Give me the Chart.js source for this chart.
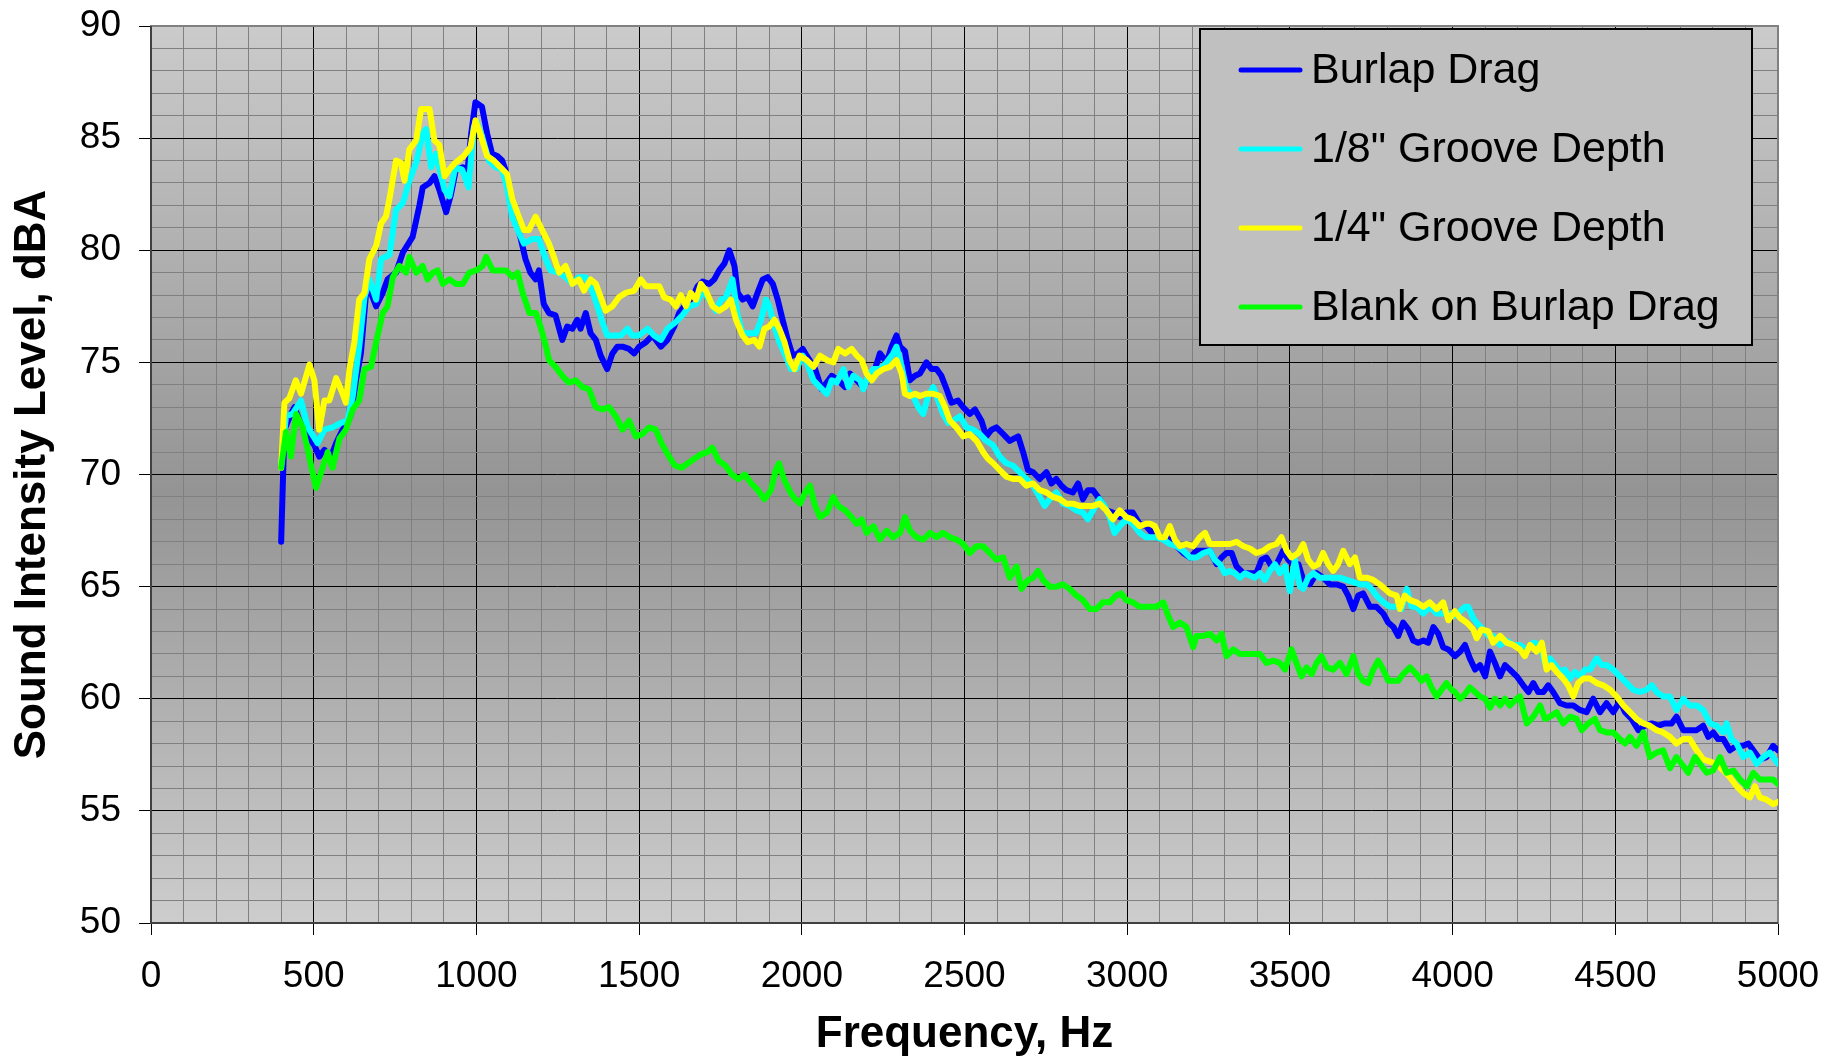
<!DOCTYPE html>
<html>
<head>
<meta charset="utf-8">
<title>Sound Intensity Level vs Frequency</title>
<script src="https://cdn.jsdelivr.net/npm/chart.js@4.4.1/dist/chart.umd.min.js"></script>
<style>
  html, body { margin: 0; padding: 0; background: #ffffff; }
  #wrap { width: 1844px; height: 1059px; }
</style>
</head>
<body>
<div id="wrap"><canvas id="chart" width="1844" height="1059"></canvas></div>
<script>
// Measured spectra: [frequency Hz, level dBA]
const burlapDrag = [[400,67.0],[410,72.0],[430,72.7],[441,73.0],[456,72.4],[482,71.7],[502,71.3],[517,70.8],[533,71.1],[553,70.8],[569,71.4],[589,72.0],[604,72.3],[615,72.7],[630,74.2],[645,75.4],[661,78.1],[676,78.1],[692,77.5],[712,78.1],[727,78.7],[753,79.0],[774,79.9],[804,80.6],[825,82.0],[835,82.8],[856,83.0],[871,83.3],[886,82.7],[907,81.7],[922,82.5],[937,83.6],[958,83.7],[973,83.6],[984,85.2],[997,86.6],[1017,86.4],[1033,85.2],[1048,84.3],[1064,84.2],[1079,84.0],[1089,83.6],[1105,82.0],[1120,81.4],[1135,80.6],[1151,79.6],[1166,79.0],[1182,78.7],[1192,79.1],[1207,77.6],[1223,77.2],[1243,77.1],[1264,76.0],[1279,76.6],[1295,76.5],[1310,76.9],[1320,76.5],[1336,77.2],[1351,76.3],[1367,76.0],[1382,75.3],[1402,74.7],[1418,75.4],[1433,75.7],[1449,75.7],[1469,75.6],[1485,75.4],[1500,75.7],[1521,75.9],[1541,76.2],[1567,75.7],[1587,76.0],[1608,76.6],[1623,77.2],[1644,77.6],[1664,77.9],[1680,78.4],[1695,78.6],[1716,78.5],[1731,78.7],[1746,79.1],[1762,79.4],[1777,80.0],[1793,79.3],[1803,78.1],[1818,77.8],[1834,77.9],[1849,77.5],[1864,78.1],[1880,78.7],[1895,78.8],[1911,78.5],[1926,77.8],[1941,76.9],[1957,76.0],[1972,75.3],[1988,75.4],[2003,75.6],[2015,75.3],[2041,74.7],[2061,73.8],[2082,74.2],[2092,74.4],[2112,74.2],[2133,73.9],[2148,74.5],[2169,74.2],[2189,73.9],[2210,74.4],[2225,74.7],[2240,75.4],[2261,75.0],[2276,75.7],[2291,76.2],[2302,75.7],[2317,75.5],[2332,74.2],[2348,74.4],[2363,74.5],[2383,75.0],[2399,74.7],[2414,74.7],[2429,74.4],[2445,73.8],[2460,73.2],[2480,73.3],[2496,73.0],[2516,72.7],[2532,72.9],[2552,72.4],[2567,71.7],[2583,72.0],[2598,72.1],[2619,71.8],[2639,71.5],[2665,71.7],[2680,71.0],[2695,70.2],[2711,70.1],[2731,69.8],[2752,70.1],[2767,69.6],[2782,69.8],[2798,69.5],[2813,69.3],[2833,69.2],[2849,69.6],[2864,68.9],[2879,69.3],[2895,69.3],[2915,68.9],[2936,68.4],[2956,68.3],[2977,68.1],[2997,68.3],[3017,68.3],[3038,67.8],[3058,67.7],[3070,67.5],[3090,67.2],[3111,67.2],[3131,67.1],[3152,66.8],[3172,66.5],[3193,66.3],[3213,66.6],[3234,66.6],[3254,66.6],[3275,66.0],[3290,66.3],[3305,66.5],[3321,66.5],[3336,65.9],[3357,65.6],[3377,65.6],[3397,65.6],[3413,66.2],[3428,66.3],[3444,65.9],[3459,66.0],[3479,66.6],[3495,66.2],[3510,66.0],[3526,66.0],[3541,65.3],[3561,65.1],[3582,65.6],[3602,65.4],[3623,65.1],[3643,65.1],[3664,65.0],[3679,64.6],[3695,64.0],[3710,64.6],[3725,64.7],[3746,64.1],[3766,64.1],[3787,63.8],[3802,63.4],[3818,63.2],[3833,62.8],[3848,63.4],[3864,63.1],[3879,62.6],[3894,62.5],[3910,62.6],[3925,62.5],[3941,63.2],[3956,62.9],[3971,62.3],[3987,62.2],[4007,61.9],[4023,62.1],[4038,62.4],[4053,61.8],[4069,61.3],[4084,61.5],[4100,61.0],[4115,62.1],[4130,61.6],[4146,61.0],[4161,61.5],[4176,61.3],[4197,61.0],[4217,60.6],[4233,60.3],[4248,60.7],[4263,60.3],[4279,60.3],[4294,60.6],[4309,60.3],[4330,59.8],[4350,59.7],[4371,59.7],[4391,59.5],[4412,59.4],[4432,60.0],[4453,59.4],[4473,59.8],[4494,59.4],[4514,59.9],[4530,59.4],[4550,59.1],[4571,58.6],[4591,58.8],[4612,58.9],[4632,58.8],[4653,58.9],[4673,58.9],[4688,59.2],[4709,58.6],[4729,58.6],[4750,58.6],[4770,58.8],[4786,58.3],[4801,58.5],[4816,58.2],[4832,58.2],[4852,57.7],[4873,57.9],[4893,57.9],[4909,58.0],[4924,57.7],[4944,57.3],[4965,57.4],[4985,57.9],[5000,57.7]];

const grooveEighth = [[400,70.5],[415,72.6],[435,72.7],[461,73.3],[482,72.1],[512,71.4],[533,72.0],[558,72.1],[584,72.3],[604,72.4],[620,73.5],[640,75.7],[656,77.9],[671,78.7],[692,77.8],[707,79.6],[733,79.8],[753,81.8],[774,82.1],[794,83.1],[815,83.9],[835,85.2],[845,85.4],[861,83.7],[876,84.3],[902,82.7],[917,82.4],[935,83.7],[956,83.6],[976,82.8],[992,85.5],[1002,85.7],[1017,85.1],[1038,84.0],[1059,83.7],[1079,83.6],[1094,82.8],[1110,81.5],[1130,80.8],[1146,80.3],[1171,80.5],[1192,80.5],[1213,79.6],[1228,79.1],[1254,79.0],[1274,78.8],[1295,78.5],[1315,78.8],[1336,78.8],[1356,78.2],[1372,77.5],[1387,76.8],[1402,76.2],[1423,76.2],[1444,76.2],[1464,76.5],[1479,76.2],[1500,76.2],[1526,76.5],[1546,76.2],[1567,76.0],[1587,76.5],[1613,76.8],[1633,77.1],[1654,77.5],[1675,77.6],[1695,78.2],[1716,77.8],[1736,77.3],[1752,77.8],[1767,77.9],[1787,78.7],[1803,77.1],[1818,76.3],[1839,76.3],[1859,76.3],[1875,76.9],[1890,77.8],[1900,77.5],[1916,76.6],[1931,75.9],[1947,75.4],[1967,74.7],[1983,74.7],[2003,75.3],[2015,75.0],[2036,74.2],[2056,73.9],[2077,73.6],[2092,74.2],[2107,74.1],[2128,74.7],[2143,73.9],[2158,74.4],[2179,74.2],[2189,73.8],[2204,74.4],[2220,74.7],[2240,74.7],[2261,75.0],[2281,75.4],[2291,75.7],[2307,74.8],[2322,73.8],[2342,73.5],[2358,73.0],[2373,72.7],[2388,73.5],[2404,73.9],[2419,73.3],[2434,72.7],[2450,72.3],[2465,72.4],[2486,72.6],[2506,72.1],[2527,72.0],[2547,71.8],[2567,71.5],[2588,71.3],[2608,70.8],[2629,70.5],[2649,70.4],[2670,70.1],[2690,69.8],[2711,69.5],[2731,69.0],[2746,68.6],[2762,68.9],[2782,69.2],[2803,68.7],[2823,68.6],[2844,68.4],[2864,68.3],[2879,68.0],[2895,68.4],[2915,68.9],[2930,68.6],[2946,68.1],[2961,67.4],[2977,67.7],[2997,68.0],[3017,67.8],[3038,67.4],[3058,67.2],[3090,67.2],[3111,67.1],[3131,66.9],[3152,66.8],[3172,66.6],[3193,66.3],[3213,66.3],[3234,66.5],[3254,66.6],[3269,66.2],[3285,66.0],[3300,65.6],[3315,65.7],[3331,65.6],[3346,65.4],[3362,65.6],[3377,65.5],[3392,65.4],[3408,65.6],[3423,65.3],[3438,65.7],[3454,66.0],[3469,65.6],[3485,65.9],[3500,64.8],[3515,66.2],[3531,65.0],[3541,64.9],[3556,65.4],[3572,65.6],[3592,65.4],[3613,65.4],[3633,65.4],[3654,65.4],[3674,65.3],[3695,65.2],[3715,65.1],[3736,65.1],[3751,64.9],[3766,64.6],[3787,64.3],[3807,64.1],[3828,64.1],[3843,64.0],[3859,64.9],[3874,64.1],[3889,64.1],[3910,63.8],[3930,64.1],[3951,63.8],[3971,63.8],[3992,63.8],[4007,63.7],[4023,63.9],[4038,64.1],[4048,64.1],[4063,63.6],[4079,63.3],[4094,63.1],[4110,62.8],[4125,62.8],[4146,62.4],[4166,62.6],[4186,62.4],[4207,62.4],[4228,62.2],[4248,62.5],[4269,62.4],[4284,61.6],[4299,61.8],[4315,61.5],[4330,61.2],[4345,61.3],[4361,60.9],[4376,61.2],[4391,61.0],[4407,61.3],[4422,61.3],[4443,61.8],[4458,61.5],[4473,61.5],[4494,61.3],[4514,61.0],[4535,60.7],[4555,60.4],[4576,60.3],[4596,60.4],[4612,60.6],[4627,60.3],[4647,60.1],[4668,60.1],[4688,59.5],[4709,60.0],[4729,59.7],[4750,59.7],[4770,59.5],[4791,58.9],[4811,58.8],[4832,58.5],[4842,58.9],[4857,58.2],[4873,58.0],[4893,57.4],[4914,57.6],[4934,57.1],[4955,57.4],[4975,57.6],[5000,57.1]];

const grooveQuarter = [[400,70.3],[410,73.2],[425,73.4],[445,74.2],[461,73.6],[487,74.9],[502,74.2],[517,72.0],[533,73.3],[548,73.3],[569,74.3],[589,73.6],[599,73.2],[610,74.7],[625,75.9],[640,77.8],[656,78.1],[671,79.6],[692,80.2],[707,81.2],[722,81.5],[733,82.3],[753,84.0],[768,83.9],[779,83.1],[794,84.5],[815,84.9],[830,86.3],[856,86.3],[871,84.9],[886,84.7],[902,83.3],[917,83.6],[935,83.9],[961,84.2],[982,84.6],[997,85.8],[1012,85.2],[1033,84.2],[1053,84.0],[1074,83.7],[1094,83.4],[1110,82.3],[1130,81.5],[1146,80.9],[1161,80.9],[1182,81.5],[1202,80.9],[1223,80.3],[1238,79.7],[1254,79.0],[1274,79.3],[1295,78.5],[1315,78.7],[1331,78.2],[1351,78.7],[1367,78.5],[1382,77.9],[1397,77.3],[1418,77.5],[1438,77.9],[1459,78.1],[1485,78.2],[1505,78.7],[1521,78.4],[1541,78.4],[1562,78.4],[1577,77.9],[1597,77.8],[1613,77.5],[1628,78.0],[1644,77.5],[1659,78.1],[1675,77.8],[1690,78.5],[1705,78.2],[1726,77.5],[1746,77.3],[1767,77.5],[1782,77.8],[1798,76.9],[1818,76.2],[1834,75.9],[1854,76.0],[1870,75.7],[1885,76.5],[1900,76.6],[1916,76.9],[1931,76.5],[1947,75.9],[1962,75.1],[1977,74.7],[1993,75.3],[2015,75.1],[2036,74.8],[2056,75.3],[2077,75.1],[2097,75.0],[2112,75.6],[2133,75.4],[2153,75.6],[2169,75.3],[2184,75.1],[2199,74.5],[2215,74.2],[2230,74.5],[2250,74.7],[2271,74.8],[2291,75.1],[2307,74.5],[2317,73.6],[2332,73.5],[2348,73.6],[2363,73.5],[2383,73.6],[2404,73.6],[2424,73.5],[2440,73.0],[2455,72.4],[2475,72.1],[2496,71.7],[2516,71.8],[2537,71.5],[2557,71.0],[2572,70.7],[2588,70.5],[2608,70.2],[2629,69.9],[2649,69.8],[2670,69.8],[2690,69.5],[2711,69.6],[2731,69.3],[2752,69.2],[2772,69.0],[2793,68.9],[2813,68.7],[2833,68.7],[2854,68.6],[2874,68.6],[2895,68.6],[2915,68.7],[2936,68.4],[2956,68.0],[2977,68.4],[2997,68.1],[3017,68.0],[3038,67.7],[3058,67.8],[3070,67.8],[3085,67.7],[3100,67.2],[3116,67.2],[3131,67.7],[3146,67.1],[3162,66.8],[3182,66.9],[3203,66.8],[3223,67.2],[3239,67.4],[3254,66.9],[3275,66.9],[3295,66.9],[3315,66.9],[3336,67.0],[3357,66.8],[3377,66.7],[3397,66.5],[3418,66.6],[3438,66.8],[3459,66.9],[3474,67.2],[3490,66.6],[3505,66.3],[3526,66.5],[3541,66.9],[3556,66.2],[3572,65.9],[3587,66.0],[3602,66.5],[3618,66.0],[3633,65.7],[3648,66.0],[3664,66.6],[3684,66.0],[3700,66.3],[3715,65.4],[3736,65.4],[3756,65.3],[3776,65.1],[3792,64.9],[3807,64.7],[3828,64.6],[3838,64.0],[3853,64.6],[3869,64.4],[3889,64.3],[3910,64.1],[3930,64.3],[3951,64.0],[3971,64.3],[3987,63.5],[4007,63.9],[4023,63.6],[4043,63.4],[4063,63.1],[4074,62.7],[4089,63.1],[4110,63.0],[4125,62.5],[4146,62.8],[4166,62.5],[4186,62.4],[4207,62.2],[4222,61.9],[4238,62.4],[4258,62.1],[4274,62.5],[4289,61.3],[4304,61.5],[4320,61.2],[4340,60.9],[4355,60.6],[4371,60.1],[4386,60.7],[4402,60.9],[4422,60.9],[4443,60.7],[4463,60.6],[4484,60.4],[4504,60.1],[4525,59.7],[4545,59.4],[4565,59.1],[4586,58.9],[4606,58.8],[4627,58.6],[4647,58.5],[4668,58.3],[4688,58.0],[4709,58.2],[4729,58.2],[4750,57.7],[4770,57.3],[4791,57.2],[4811,57.1],[4832,56.8],[4852,56.5],[4873,56.1],[4893,55.8],[4914,55.6],[4929,56.1],[4944,55.6],[4965,55.5],[4985,55.3],[5000,55.4]];

const blankOnBurlap = [[400,70.3],[415,71.9],[430,70.8],[446,72.7],[466,72.1],[482,71.1],[495,70.2],[507,69.4],[523,70.1],[543,71.0],[558,70.3],[579,71.6],[599,72.0],[620,72.9],[640,73.3],[656,74.7],[676,74.8],[692,75.9],[712,77.2],[727,77.5],[743,78.8],[763,79.3],[784,79.0],[794,79.7],[815,79.0],[835,79.3],[850,78.7],[866,79.0],[881,79.1],[897,78.5],[917,78.7],[937,78.5],[958,78.5],[978,79.0],[999,79.1],[1019,79.3],[1030,79.7],[1050,79.1],[1071,79.1],[1091,79.1],[1112,78.8],[1127,79.0],[1142,78.1],[1163,77.2],[1183,77.2],[1199,76.5],[1214,75.7],[1223,75.1],[1243,74.8],[1264,74.4],[1284,74.1],[1305,74.2],[1326,73.9],[1346,73.8],[1367,73.0],[1387,72.9],[1408,73.0],[1428,72.6],[1449,72.0],[1469,72.4],[1490,71.7],[1510,71.8],[1531,72.1],[1551,72.0],[1572,71.3],[1592,70.8],[1610,70.4],[1630,70.3],[1650,70.5],[1670,70.7],[1690,70.9],[1710,71.0],[1725,71.2],[1745,70.6],[1765,70.4],[1785,70.0],[1805,69.8],[1825,70.0],[1845,69.6],[1865,69.3],[1885,68.9],[1905,69.3],[1920,70.2],[1930,70.5],[1945,69.8],[1965,69.2],[1980,68.9],[1995,68.7],[2010,69.2],[2025,69.5],[2041,68.6],[2056,68.1],[2077,68.3],[2097,69.0],[2112,68.6],[2133,68.4],[2153,68.1],[2169,67.8],[2184,68.0],[2199,67.4],[2220,67.7],[2240,67.1],[2261,67.5],[2281,67.2],[2302,67.4],[2317,68.1],[2332,67.5],[2353,67.2],[2373,67.1],[2394,67.4],[2414,67.2],[2434,67.4],[2455,67.2],[2475,67.1],[2496,66.9],[2516,66.5],[2537,66.8],[2557,66.8],[2578,66.5],[2598,66.2],[2619,66.3],[2639,65.4],[2660,65.9],[2675,64.9],[2695,65.3],[2711,65.4],[2726,65.7],[2741,65.3],[2762,65.0],[2782,65.0],[2803,65.1],[2823,64.9],[2844,64.6],[2864,64.4],[2885,64.0],[2905,64.0],[2925,64.3],[2946,64.3],[2966,64.6],[2981,64.7],[2997,64.4],[3017,64.3],[3038,64.1],[3058,64.1],[3090,64.1],[3111,64.3],[3126,63.7],[3141,63.2],[3162,63.4],[3182,63.2],[3203,62.3],[3213,62.8],[3234,62.8],[3254,62.9],[3275,62.6],[3290,62.9],[3305,61.9],[3326,62.2],[3346,62.0],[3367,62.0],[3387,62.0],[3408,62.0],[3428,61.6],[3449,61.7],[3469,61.6],[3485,61.3],[3505,62.2],[3520,61.6],[3536,61.0],[3551,61.4],[3567,61.1],[3582,61.6],[3597,61.9],[3613,61.4],[3633,61.3],[3654,61.6],[3674,61.1],[3695,61.9],[3710,61.1],[3725,60.8],[3741,60.7],[3756,61.3],[3771,61.7],[3787,61.3],[3802,60.8],[3818,60.8],[3833,60.8],[3848,61.1],[3869,61.4],[3889,61.1],[3905,60.8],[3920,61.0],[3935,60.5],[3951,60.1],[3966,60.4],[3981,60.7],[3997,60.4],[4007,60.3],[4023,60.0],[4038,60.2],[4053,60.5],[4069,60.3],[4084,60.1],[4100,60.0],[4115,59.6],[4130,60.0],[4146,59.7],[4161,60.0],[4176,59.7],[4197,60.0],[4207,60.1],[4228,58.9],[4248,59.2],[4269,59.7],[4284,59.1],[4299,59.2],[4320,59.4],[4340,58.9],[4361,59.2],[4381,59.1],[4397,58.6],[4417,58.9],[4437,59.1],[4453,58.6],[4473,58.5],[4494,58.5],[4514,58.2],[4530,58.0],[4545,58.3],[4565,57.9],[4586,58.5],[4606,57.4],[4627,57.6],[4647,57.7],[4668,56.9],[4688,57.4],[4709,57.0],[4724,56.7],[4745,57.4],[4760,57.1],[4781,56.7],[4801,56.8],[4822,57.4],[4842,56.7],[4863,56.8],[4883,56.4],[4904,56.1],[4924,56.7],[4944,56.4],[4965,56.4],[4985,56.4],[5000,56.2]];

const seriesNames  = ['Burlap Drag', '1/8" Groove Depth', '1/4" Groove Depth', 'Blank on Burlap Drag'];
const seriesColors = ['#0000ff', '#00ffff', '#ffff00', '#00ff00'];
const seriesData   = [burlapDrag, grooveEighth, grooveQuarter, blankOnBurlap];

const xMajorTicks = [0, 500, 1000, 1500, 2000, 2500, 3000, 3500, 4000, 4500, 5000];
const yMajorTicks = [50, 55, 60, 65, 70, 75, 80, 85, 90];

const FONT = 'Liberation Sans, Arial, Helvetica, sans-serif';

// Grey shaded plot area, darkest through the middle
const plotBackground = {
  id: 'plotBackground',
  beforeDraw(chart) {
    const { ctx, chartArea: a } = chart;
    const g = ctx.createLinearGradient(0, a.top, 0, a.bottom);
    g.addColorStop(0, '#cbcbcb');
    g.addColorStop(0.52, '#949494');
    g.addColorStop(1, '#cdcdcd');
    ctx.save();
    ctx.fillStyle = g;
    ctx.fillRect(a.left, a.top, a.right - a.left, a.bottom - a.top);
    ctx.restore();
  }
};

// Frame around the plot area, drawn under the data lines
const plotFrame = {
  id: 'plotFrame',
  beforeDatasetsDraw(chart) {
    const { ctx, chartArea: a } = chart;
    ctx.save();
    ctx.lineWidth = 2;
    ctx.strokeStyle = '#808080';
    ctx.strokeRect(a.left, a.top, a.right - a.left, a.bottom - a.top);
    ctx.strokeStyle = '#404040';
    ctx.beginPath();
    ctx.moveTo(a.left, a.top);
    ctx.lineTo(a.left, a.bottom);
    ctx.lineTo(a.right, a.bottom);
    ctx.stroke();
    ctx.restore();
  }
};

// Boxed legend inside the upper right of the plot
const boxedLegend = {
  id: 'boxedLegend',
  afterDraw(chart) {
    const { ctx } = chart;
    const box = { x: 1200, y: 29, w: 552, h: 316 };
    ctx.save();
    ctx.fillStyle = '#c0c0c0';
    ctx.fillRect(box.x, box.y, box.w, box.h);
    ctx.lineWidth = 2;
    ctx.strokeStyle = '#000000';
    ctx.strokeRect(box.x, box.y, box.w, box.h);
    ctx.font = '43px ' + FONT;
    ctx.textBaseline = 'middle';
    ctx.textAlign = 'left';
    chart.data.datasets.forEach((ds, i) => {
      const cy = 70 + i * 79;
      ctx.strokeStyle = ds.borderColor;
      ctx.lineWidth = 5;
      ctx.lineCap = 'round';
      ctx.beginPath();
      ctx.moveTo(1241, cy);
      ctx.lineTo(1300, cy);
      ctx.stroke();
      ctx.fillStyle = '#000000';
      ctx.fillText(ds.label, 1311, cy + 1);
    });
    ctx.restore();
  }
};

const datasets = seriesData.map((pts, i) => ({
  label: seriesNames[i],
  data: pts.map(p => ({ x: p[0], y: p[1] })),
  borderColor: seriesColors[i],
  backgroundColor: seriesColors[i],
  borderWidth: 6,
  pointRadius: 0,
  tension: 0,
  fill: false,
  borderJoinStyle: 'round',
  borderCapStyle: 'round',
  order: seriesData.length - i
}));

new Chart(document.getElementById('chart'), {
  type: 'line',
  data: { datasets },
  options: {
    responsive: false,
    animation: false,
    devicePixelRatio: 1,
    layout: { padding: { left: 0, right: 66, top: 26, bottom: 0 } },
    plugins: {
      legend: { display: false },
      tooltip: { enabled: false }
    },
    scales: {
      x: {
        type: 'linear',
        min: 0,
        max: 5000,
        afterFit(scale) {
          scale.height = 136;
          scale.paddingLeft = 0;
          scale.paddingRight = 0;
        },
        ticks: {
          stepSize: 100,
          autoSkip: false,
          maxRotation: 0,
          padding: 20,
          color: '#000000',
          font: { family: FONT, size: 37 },
          callback: v => (xMajorTicks.includes(v) ? String(v) : '')
        },
        grid: {
          lineWidth: 1,
          color: c => (c.tick && xMajorTicks.includes(c.tick.value) ? '#000000' : '#808080'),
          tickLength: 12,
          tickColor: c => (c.tick && xMajorTicks.includes(c.tick.value) ? '#000000' : 'rgba(0,0,0,0)')
        },
        border: { display: false },
        title: {
          display: true,
          text: 'Frequency, Hz',
          color: '#000000',
          font: { family: FONT, size: 44, weight: 'bold', lineHeight: 1.1 },
          padding: { top: 0, bottom: 0 }
        }
      },
      y: {
        type: 'linear',
        min: 50,
        max: 90,
        afterFit(scale) {
          scale.width = 151;
          scale.paddingTop = 0;
          scale.paddingBottom = 0;
        },
        ticks: {
          stepSize: 1,
          autoSkip: false,
          padding: 18,
          color: '#000000',
          font: { family: FONT, size: 37 },
          callback: v => (yMajorTicks.includes(v) ? String(v) : '')
        },
        grid: {
          lineWidth: 1,
          color: c => (c.tick && yMajorTicks.includes(c.tick.value) ? '#000000' : '#808080'),
          tickLength: 12,
          tickColor: c => (c.tick && yMajorTicks.includes(c.tick.value) ? '#000000' : 'rgba(0,0,0,0)')
        },
        border: { display: false },
        title: {
          display: true,
          text: 'Sound Intensity Level, dBA',
          color: '#000000',
          font: { family: FONT, size: 44, weight: 'bold', lineHeight: 1.2 },
          padding: { top: 6, bottom: 0 }
        }
      }
    }
  },
  plugins: [plotBackground, plotFrame, boxedLegend]
});
</script>
</body>
</html>
